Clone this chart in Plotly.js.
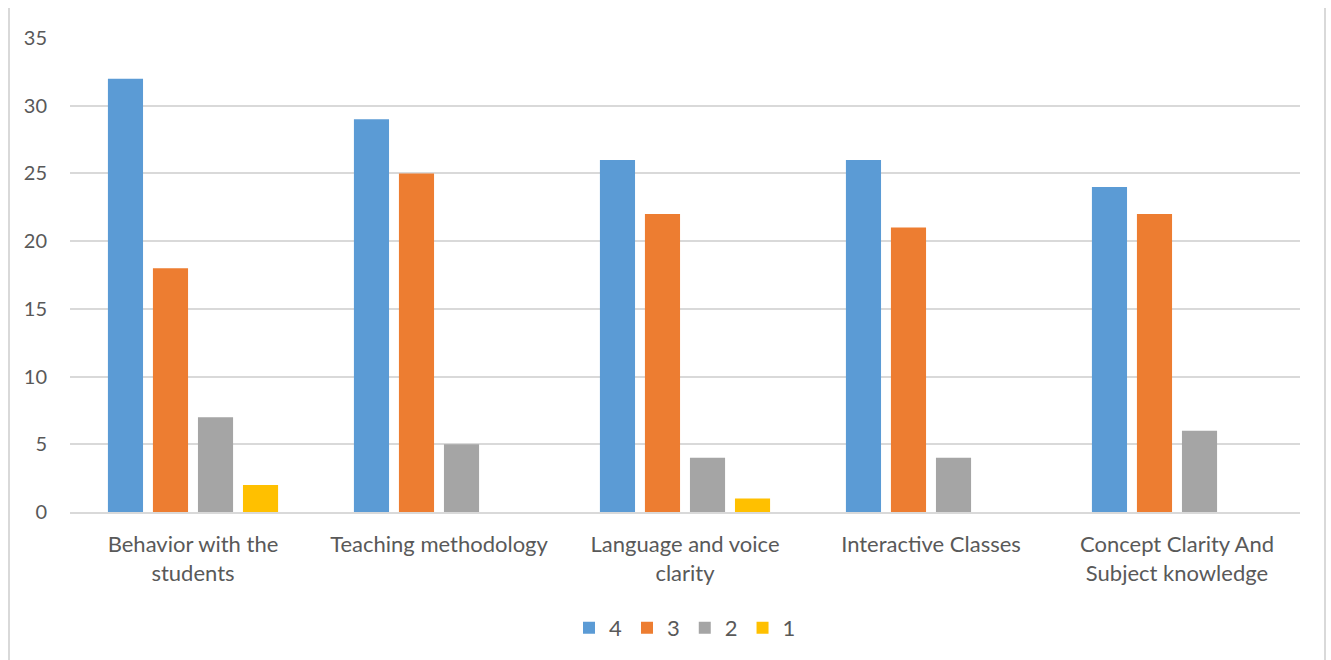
<!DOCTYPE html>
<html>
<head>
<meta charset="utf-8">
<script src="https://cdn.plot.ly/plotly-3.0.1.min.js"></script>
<style>
html,body{margin:0;padding:0;background:#fff;}
#wrap{position:absolute;left:0;top:0;width:1331px;height:660px;}
#frame{position:absolute;left:8px;top:8px;width:1318px;height:660px;border-left:2px solid #d9d9d9;border-right:2px solid #d9d9d9;box-sizing:border-box;pointer-events:none;}
#chart{position:absolute;left:0;top:0;width:1331px;height:660px;}
</style>
</head>
<body>
<div id="wrap">
<div id="chart"></div>
<div id="frame"></div>
</div>
<script>
const categories = [
  "Behavior with the<br>students",
  "Teaching methodology",
  "Language and voice<br>clarity",
  "Interactive Classes",
  "Concept Clarity And<br>Subject knowledge"
];
const seriesNames = ["4", "3", "2", "1"];
const values4 = [32, 29, 26, 26, 24];
const values3 = [18, 25, 22, 21, 22];
const values2 = [7, 5, 4, 4, 6];
const values1 = [2, 0, 1, 0, 0];
const yTicks = [0, 5, 10, 15, 20, 25, 30, 35];

const colors = ["#5B9BD5", "#ED7D31", "#A5A5A5", "#FFC000"];
const allValues = [values4, values3, values2, values1];

const traces = allValues.map((v, i) => ({
  type: "bar",
  name: seriesNames[i],
  x: categories,
  y: v,
  marker: {color: colors[i], line: {width: 0}},
  hoverinfo: "y"
}));

const font = "Lato, 'Open Sans', sans-serif";
const layout = {
  width: 1331,
  height: 660,
  margin: {l: 70, r: 31, t: 38, b: 147},
  paper_bgcolor: "#ffffff",
  plot_bgcolor: "#ffffff",
  barmode: "group",
  bargap: 0.268,
  bargroupgap: 0.22,
  font: {family: font, size: 20, color: "#595959"},
  xaxis: {
    type: "category",
    showgrid: false,
    showline: true,
    linecolor: "#d9d9d9",
    linewidth: 2,
    ticks: "",
    tickfont: {family: font, size: 22, color: "#595959"},
    ticklabelstandoff: 12,
    zeroline: false,
    fixedrange: true
  },
  yaxis: {
    range: [0, 35],
    tickvals: yTicks,
    ticktext: yTicks.map(String),
    showgrid: true,
    gridcolor: "#d9d9d9",
    gridwidth: 2,
    zeroline: false,
    showline: false,
    ticks: "",
    tickfont: {family: font, size: 20, color: "#595959"},
    ticklabelstandoff: 22,
    fixedrange: true
  },
  showlegend: true,
  legend: {
    orientation: "h",
    x: 0.5,
    xanchor: "center",
    y: -0.242,
    yanchor: "middle",
    font: {family: font, size: 22, color: "#595959"},
    itemwidth: 30,
    tracegroupgap: 0,
    traceorder: "normal"
  }
};

Plotly.newPlot("chart", traces, layout, {displayModeBar: false, staticPlot: true});
</script>
</body>
</html>
